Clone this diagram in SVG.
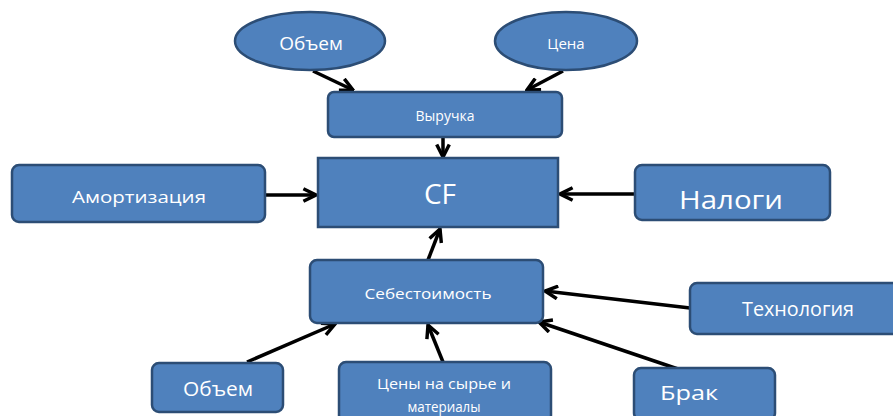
<svg xmlns="http://www.w3.org/2000/svg" width="893" height="416" viewBox="0 0 893 416">
<defs>
<marker id="ah" viewBox="0 0 10 10" refX="9" refY="5" markerWidth="4.5" markerHeight="4.5" orient="auto" markerUnits="strokeWidth">
<path d="M1,1 L9,5 L1,9" fill="none" stroke="#000" stroke-width="2.2"/>
</marker>
</defs>
<style>
.n{fill:#4F81BD;stroke:#2C4D75;stroke-width:2.5}
.t{fill:#fff;font-family:"Open Sans","Liberation Sans",sans-serif;text-anchor:middle;dominant-baseline:central}
.c line{stroke:#000;stroke-width:3.5;marker-end:url(#ah)}
</style>
<rect width="893" height="416" fill="#fff"/>
<g class="c">
<line x1="313" y1="71" x2="353" y2="90"/>
<line x1="563" y1="71" x2="527" y2="90"/>
<line x1="443" y1="137" x2="443" y2="157"/>
<line x1="265" y1="195" x2="316" y2="195"/>
<line x1="635" y1="194" x2="560" y2="194"/>
<line x1="428" y1="260" x2="440" y2="229"/>
<line x1="690" y1="308" x2="545" y2="291"/>
<line x1="678" y1="369" x2="539" y2="322"/>
<line x1="247" y1="362" x2="335" y2="324"/>
<line x1="443" y1="362" x2="428" y2="325"/>
</g>
<g id="obem-top"><ellipse class="n" cx="310" cy="41" rx="75" ry="29"/><text class="t" x="311" y="43" font-size="19">Объем</text></g>
<g id="cena"><ellipse class="n" cx="566" cy="41" rx="71" ry="29"/><text class="t" x="566" y="43" font-size="15">Цена</text></g>
<g id="vyruchka"><rect class="n" x="328" y="92" width="234" height="45" rx="6"/><text class="t" x="445" y="115" font-size="14">Выручка</text></g>
<g id="cf"><rect class="n" x="318" y="158" width="240" height="69"/><text class="t" x="440" y="193" font-size="28">CF</text></g>
<g id="amort"><rect class="n" x="12" y="165" width="253" height="57" rx="7"/><text class="t" x="139" y="196" font-size="17" textLength="134" lengthAdjust="spacingAndGlyphs">Амортизация</text></g>
<g id="nalogi"><rect class="n" x="635" y="165" width="195" height="55" rx="7"/><text class="t" x="731" y="199" font-size="26" textLength="104" lengthAdjust="spacingAndGlyphs">Налоги</text></g>
<g id="sebest"><rect class="n" x="310" y="260" width="233" height="63" rx="7"/><text class="t" x="428" y="293" font-size="14" textLength="127" lengthAdjust="spacingAndGlyphs">Себестоимость</text></g>
<g id="tehn"><rect class="n" x="690" y="283" width="210" height="51" rx="7"/><text class="t" x="798" y="308" font-size="20" textLength="112" lengthAdjust="spacingAndGlyphs">Технология</text></g>
<g id="obem-bot"><rect class="n" x="152" y="363" width="131" height="49" rx="7"/><text class="t" x="218" y="388" font-size="20" textLength="70" lengthAdjust="spacingAndGlyphs">Объем</text></g>
<g id="ceny"><rect class="n" x="339" y="362" width="212" height="60" rx="7"/><text class="t" x="444" y="383" font-size="14" textLength="134" lengthAdjust="spacingAndGlyphs">Цены на сырье и</text><text class="t" x="444" y="406" font-size="14" textLength="73" lengthAdjust="spacingAndGlyphs">материалы</text></g>
<g id="brak"><rect class="n" x="634" y="368" width="141" height="52" rx="7"/><text class="t" x="689" y="392" font-size="20" textLength="58" lengthAdjust="spacingAndGlyphs">Брак</text></g>
</svg>
